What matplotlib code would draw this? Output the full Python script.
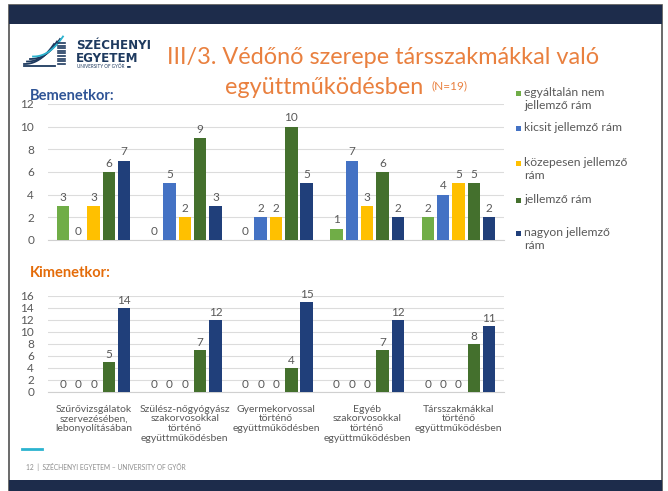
import matplotlib
matplotlib.use("Agg")
import matplotlib.pyplot as plt
import numpy as np
from matplotlib.patches import Rectangle

plt.rcParams['font.family'] = ['Lato', 'DejaVu Sans']

series = ['egyáltalán nem\njellemző rám', 'kicsit jellemző rám',
          'közepesen jellemző\nrám', 'jellemző rám', 'nagyon jellemző\nrám']
colors = ['#70AD47', '#4472C4', '#FFC000', '#44702D', '#203F7A']
categories = ['Szűrővizsgálatok\nszervezésében,\nlebonyolításában',
              'Szülész-nőgyógyász\nszakorvosokkal\ntörténő\negyüttműködésben',
              'Gyermekorvossal\ntörténő\negyüttműködésben',
              'Egyéb\nszakorvosokkal\ntörténő\negyüttműködésben',
              'Társszakmákkal\ntörténő\negyüttműködésben']

# rows: series, columns: categories
bemenet = [[3, 0, 0, 1, 2],
           [0, 5, 2, 7, 4],
           [3, 2, 2, 3, 5],
           [6, 9, 10, 6, 5],
           [7, 3, 5, 2, 2]]
kimenet = [[0, 0, 0, 0, 0],
           [0, 0, 0, 0, 0],
           [0, 0, 0, 0, 0],
           [5, 7, 4, 7, 8],
           [14, 12, 15, 12, 11]]

W, H = 668, 491
fig = plt.figure(figsize=(W / 100, H / 100), dpi=100)


def fx(px):
    return px / W


def fy(py):
    return 1 - py / H


# slide frame and bands
fig.patches.append(Rectangle((fx(9), fy(491)), fx(653), fy(5) - fy(491),
                             transform=fig.transFigure, fc='white', ec='#505050',
                             lw=1.2, zorder=-2))
fig.patches.append(Rectangle((fx(9), fy(24)), fx(653), fy(5) - fy(24),
                             transform=fig.transFigure, fc='#1D2C4B', ec='none', zorder=-1))
fig.patches.append(Rectangle((fx(9), fy(491)), fx(653), fy(480) - fy(491),
                             transform=fig.transFigure, fc='#1D2C4B', ec='none', zorder=-1))

# logo
t = np.linspace(0, 1, 30)
for k, c in enumerate(['#1E3A5F', '#1E3A5F', '#1E3A5F', '#2BB3CF']):
    xs = 24 + 30 * t + k * 3
    ys = 64 - k * 2.5 - 20 * t ** 2.2
    fig.lines.append(plt.Line2D([fx(v) for v in xs], [fy(v) for v in ys],
                                transform=fig.transFigure, color=c, lw=1.3))
for k in range(9):
    fig.lines.append(plt.Line2D([fx(58), fx(65)], [fy(43 + k * 2.6)] * 2,
                                transform=fig.transFigure, color='#1E3A5F', lw=1.2))
fig.lines.append(plt.Line2D([fx(24), fx(55)], [fy(66)] * 2,
                            transform=fig.transFigure, color='#1E3A5F', lw=1.3))
fig.text(fx(76), fy(52), 'SZÉCHENYI\nEGYETEM', color='#1E3A5F', fontsize=8.6,
         fontweight='bold', va='center', linespacing=0.95, family='DejaVu Sans')
fig.text(fx(77), fy(66.5), 'UNIVERSITY OF GYŐR  ▬', color='#1E3A5F', fontsize=3.3,
         va='center')

# title
fig.text(fx(383), fy(57), 'III/3. Védőnő szerepe társszakmákkal való',
         color='#E9803F', fontsize=16.9, ha='center', va='center')
fig.text(fx(324), fy(88), 'együttműködésben', color='#E9803F',
         fontsize=16.9, ha='center', va='center')
fig.text(fx(432), fy(86), '(N=19)', color='#E9803F', fontsize=8.5, va='center')

fig.text(fx(30), fy(96), 'Bemenetkor:', color='#2F5496', fontsize=10.5,
         fontweight='bold', va='center')
fig.text(fx(30), fy(273), 'Kimenetkor:', color='#E46C0A', fontsize=10.5,
         fontweight='bold', va='center')

x = np.arange(len(categories))
pitch, bw = 0.168, 0.136


def draw(ax, data, ymax, show_xlabels):
    for i, vals in enumerate(data):
        pos = x + (i - 2) * pitch
        ax.bar(pos, vals, width=bw, color=colors[i], zorder=3)
        for p, v in zip(pos, vals):
            ax.text(p, v + ymax * 0.025, str(v), ha='center', va='bottom',
                    fontsize=8.5, color='#595959')
    ax.set_xlim(-0.5, len(categories) - 0.5)
    ax.set_ylim(0, ymax)
    ax.set_yticks(np.arange(0, ymax + 1, 2))
    ax.yaxis.grid(True, color='#DCDCDC', lw=0.8, zorder=0)
    ax.set_axisbelow(True)
    ax.patch.set_alpha(0)
    for s in ['top', 'right', 'left']:
        ax.spines[s].set_visible(False)
    ax.spines['bottom'].set_color('#D0D0D0')
    ax.tick_params(axis='y', length=0, labelsize=8.5, labelcolor='#595959', pad=10)
    ax.tick_params(axis='x', length=0)
    if show_xlabels:
        ax.set_xticks(x)
        ax.set_xticklabels(categories, fontsize=7.5, color='#595959',
                           linespacing=1.1)
    else:
        ax.set_xticks([])


ax1 = fig.add_axes([fx(48), fy(240), fx(456), fy(104) - fy(240)])
draw(ax1, bemenet, 12, False)
ax2 = fig.add_axes([fx(48), fy(392), fx(456), fy(296) - fy(392)])
draw(ax2, kimenet, 16, True)
ax2.tick_params(axis='x', pad=9)

# legend
leg_y = [93, 128, 163, 200, 233]
for lab, c, y in zip(series, colors, leg_y):
    fig.patches.append(Rectangle((fx(516), fy(y + 3)), fx(5), fy(y - 2) - fy(y + 3),
                                 transform=fig.transFigure, fc=c, ec='none'))
    fig.text(fx(524), fy(y - 6), lab, fontsize=8.7, color='#595959', va='top',
             linespacing=1.2)

# footer
fig.lines.append(plt.Line2D([fx(22), fx(42)], [fy(449)] * 2,
                            transform=fig.transFigure, color='#2BB3CF', lw=2))
fig.text(fx(26), fy(467), '12  |  SZÉCHENYI EGYETEM – UNIVERSITY OF GYŐR',
         fontsize=4.8, color='#8C8C8C', va='center')

fig.savefig('out.png', dpi=100)
